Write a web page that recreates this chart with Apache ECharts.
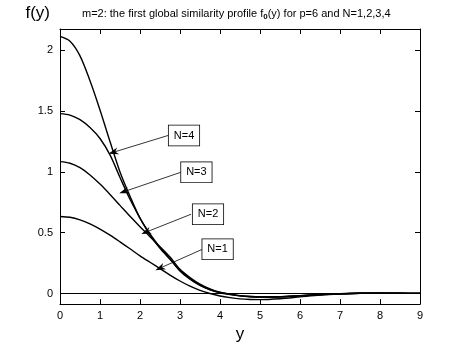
<!DOCTYPE html>
<html>
<head>
<meta charset="utf-8">
<script src="https://cdn.jsdelivr.net/npm/echarts@6/dist/echarts.min.js"></script>
<style>
  html, body { margin: 0; padding: 0; background: #fff; }
  #chart { width: 464px; height: 348px; }
</style>
</head>
<body>
<div id="chart"></div>
<script>
var yPos = [0, 0.25, 0.5, 0.75, 1, 1.25, 1.5, 1.75, 2, 2.25, 2.5, 2.75, 3, 3.25, 3.5, 3.75, 4,
            4.25, 4.5, 4.75, 5, 5.5, 6, 6.5, 7, 7.5, 8, 8.5, 9];

var fN4 = [2.115, 2.075, 1.955, 1.75, 1.51, 1.25, 1.0, 0.8, 0.62, 0.49, 0.38, 0.285, 0.185, 0.118, 0.066, 0.03, 0.006,
           -0.008, -0.019, -0.026, -0.029, -0.026, -0.017, -0.008, -0.002, 0.002, 0.003, 0.002, 0.001];
var fN3 = [1.48, 1.468, 1.43, 1.365, 1.275, 1.14, 0.955, 0.775, 0.62, 0.48, 0.372, 0.282, 0.19, 0.123, 0.07, 0.033, 0.008,
           -0.006, -0.018, -0.025, -0.028, -0.026, -0.018, -0.009, -0.002, 0.002, 0.003, 0.002, 0.001];
var fN2 = [1.085, 1.072, 1.035, 0.975, 0.9, 0.815, 0.725, 0.635, 0.55, 0.468, 0.385, 0.3, 0.2, 0.132, 0.078, 0.039, 0.011,
           -0.004, -0.017, -0.025, -0.029, -0.027, -0.019, -0.01, -0.003, 0.002, 0.003, 0.002, 0.001];
var fN1 = [0.634, 0.627, 0.606, 0.573, 0.53, 0.48, 0.425, 0.368, 0.31, 0.257, 0.205, 0.152, 0.103, 0.06, 0.026, 0.0, -0.02,
           -0.034, -0.044, -0.049, -0.05, -0.043, -0.028, -0.013, -0.004, 0.002, 0.004, 0.003, 0.002];

var xTicks = [0, 1, 2, 3, 4, 5, 6, 7, 8, 9];
var yTicks = [0, 0.5, 1, 1.5, 2];

// annotations: text boxes and arrows (data coordinates)
var labelText = ['N=4', 'N=3', 'N=2', 'N=1'];
var labelAt = [[3.1, 1.30], [3.41, 0.997], [3.7, 0.652], [3.94, 0.364]];
var arrowFrom = [[2.7, 1.30], [3.0175, 0.997], [3.275, 0.652], [3.56, 0.364]];
var arrowTo = [[1.333, 1.162], [1.6, 0.838], [2.15, 0.505], [2.5, 0.209]];

function pairs(ys) {
    return yPos.map(function (y, i) { return [y, ys[i]]; });
}

var font = 'Liberation Sans, Arial, Helvetica, sans-serif';
var curveStyle = { color: '#000', width: 1.4 };
var frameLine = { onZero: false, lineStyle: { color: '#000', width: 1 } };
var tickIn = { inside: true, length: 5, lineStyle: { color: '#000' } };

var myChart = echarts.init(document.getElementById('chart'));

var option = {
    animation: false,
    title: {
        text: '{t|m=2: the first global similarity profile f}{s|0}{t|(y) for p=6 and N=1,2,3,4}',
        left: 77,
        top: 2,
        textStyle: {
            rich: {
                t: { fontFamily: font, fontSize: 11, color: '#000', fontWeight: 'normal' },
                s: { fontFamily: font, fontSize: 8, color: '#000', padding: [6, 0, 0, 0] }
            }
        }
    },
    grid: { left: 60, right: 44, top: 29, bottom: 40 },
    xAxis: [{
        type: 'value',
        min: 0, max: 9, interval: 1,
        name: 'y',
        nameLocation: 'middle',
        nameGap: 17,
        nameTextStyle: { fontFamily: font, fontSize: 17, color: '#000' },
        axisLine: frameLine,
        axisTick: tickIn,
        axisLabel: { margin: 6, fontFamily: font, fontSize: 11, color: '#000' },
        splitLine: { show: false }
    }, {
        type: 'value',
        position: 'top',
        min: 0, max: 9, interval: 1,
        axisLine: frameLine,
        axisTick: tickIn,
        axisLabel: { show: false },
        splitLine: { show: false }
    }],
    yAxis: [{
        type: 'value',
        min: -0.087, max: 2.176,
        name: 'f(y)',
        nameLocation: 'end',
        nameGap: 7,
        nameTextStyle: { fontFamily: font, fontSize: 17, color: '#000', align: 'right', verticalAlign: 'bottom', padding: [0, 10, 0, 0] },
        axisLine: frameLine,
        axisTick: { inside: true, length: 5, customValues: yTicks, lineStyle: { color: '#000' } },
        axisLabel: { margin: 7, customValues: yTicks, fontFamily: font, fontSize: 11, color: '#000' },
        splitLine: { show: false }
    }, {
        type: 'value',
        position: 'right',
        min: -0.087, max: 2.176,
        axisLine: frameLine,
        axisTick: { inside: true, length: 5, customValues: yTicks, lineStyle: { color: '#000' } },
        axisLabel: { show: false },
        splitLine: { show: false }
    }],
    series: [
        { name: 'N=4', type: 'line', data: pairs(fN4), smooth: 0.3, showSymbol: false, lineStyle: curveStyle },
        { name: 'N=3', type: 'line', data: pairs(fN3), smooth: 0.3, showSymbol: false, lineStyle: curveStyle },
        { name: 'N=2', type: 'line', data: pairs(fN2), smooth: 0.3, showSymbol: false, lineStyle: curveStyle },
        { name: 'N=1', type: 'line', data: pairs(fN1), smooth: 0.3, showSymbol: false, lineStyle: curveStyle },
        {
            name: 'zero', type: 'line',
            data: [[xTicks[0], 0], [xTicks[xTicks.length - 1], 0]],
            showSymbol: false,
            lineStyle: { color: '#000', width: 1.2 },
            markLine: {
                silent: true,
                symbol: ['none', 'path://M0,0 L5,10 L0,7 L-5,10 Z'],
                symbolSize: [7, 10],
                lineStyle: { color: '#000', width: 0.8, type: 'solid' },
                label: { show: false },
                data: arrowFrom.map(function (p, i) {
                    return [{ coord: p }, { coord: arrowTo[i] }];
                })
            },
            markPoint: {
                silent: true,
                symbol: 'rect',
                symbolSize: 0,
                label: {
                    show: true,
                    position: 'inside',
                    fontFamily: font,
                    fontSize: 11,
                    color: '#000',
                    backgroundColor: '#fff',
                    borderColor: '#000',
                    borderWidth: 0.8,
                    padding: [5, 5, 4, 5],
                    formatter: function (p) { return p.name; }
                },
                data: labelAt.map(function (p, i) {
                    return { name: labelText[i], coord: p };
                })
            }
        }
    ]
};
myChart.setOption(option);
</script>
</body>
</html>
